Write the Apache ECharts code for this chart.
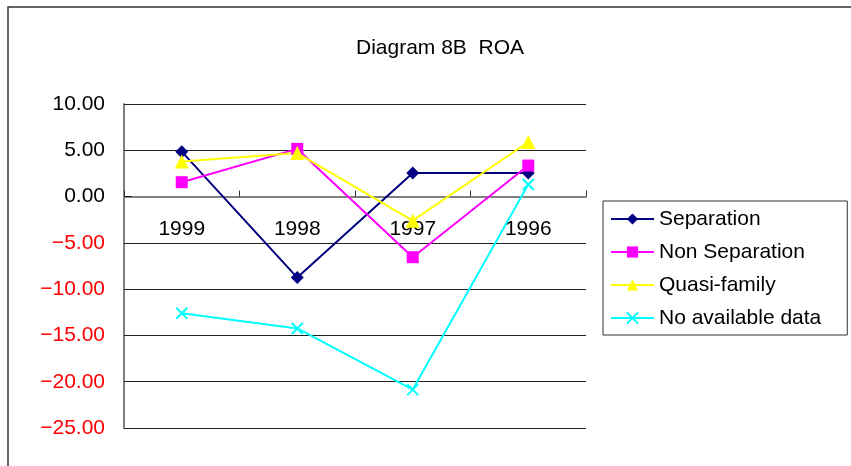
<!DOCTYPE html>
<html>
<head>
<meta charset="utf-8">
<script src="https://cdn.jsdelivr.net/npm/echarts@6/dist/echarts.min.js"></script>
<style>
  html, body { margin: 0; padding: 0; background: #fff; }
  #chart { width: 851px; height: 466px; }
</style>
</head>
<body>
<div id="chart"></div>
<script>
const years = ['1999', '1998', '1997', '1996'];
const separation = [4.85, -8.75, 2.55, 2.55];
const nonSeparation = [1.55, 5.15, -6.55, 3.35];
const quasiFamily = [3.8, 4.7, -2.6, 5.9];
const noData = [-12.6, -14.25, -20.85, 1.3];

const font = 'Liberation Sans, Arial, sans-serif';
const chart = echarts.init(document.getElementById('chart'));

function makeSeries(name, data, color, symbol, size, extra) {
  return {
    name: name,
    type: 'line',
    data: data,
    symbol: symbol,
    symbolSize: size,
    showAllSymbol: true,
    lineStyle: { color: color, width: 2 },
    itemStyle: Object.assign({ color: color, borderWidth: 0 }, extra || {}),
    emphasis: { disabled: true },
    animation: false
  };
}

const option = {
  animation: false,
  title: {
    text: 'Diagram 8B  ROA',
    left: 435,
    top: 33,
    textAlign: 'center',
    textStyle: { fontFamily: font, fontSize: 21, fontWeight: 'normal', color: '#000' }
  },
  graphic: [{
    type: 'rect',
    shape: { x: 8, y: 7, width: 900, height: 520 },
    style: { fill: 'none', stroke: '#333', lineWidth: 1.5 },
    silent: true
  }],
  legend: {
    orient: 'vertical',
    left: 603,
    top: 201,
    padding: [7, 26, 6, 7],
    borderColor: '#333',
    borderWidth: 1,
    itemWidth: 43,
    itemHeight: 14,
    itemGap: 11,
    textStyle: { fontFamily: font, fontSize: 21, color: '#000', lineHeight: 22 },
    data: ['Separation', 'Non Separation', 'Quasi-family', 'No available data']
  },
  grid: { left: 124, right: 265, top: 104, bottom: 38, containLabel: false, outerBoundsMode: 'none' },
  xAxis: [{
    type: 'category',
    data: years,
    boundaryGap: true,
    axisLine: { onZero: true, lineStyle: { color: '#808080', width: 2 } },
    axisTick: { show: true, inside: true, length: 6, lineStyle: { color: '#333' } },
    axisLabel: { show: false },
    splitLine: { show: false }
  }, {
    // label-only axis sitting just under the zero line
    type: 'category',
    data: years,
    position: 'bottom',
    offset: -231,
    boundaryGap: true,
    axisLine: { show: false, onZero: false },
    axisTick: { show: false },
    axisLabel: { margin: 22, fontFamily: font, fontSize: 21, color: '#000' },
    splitLine: { show: false }
  }],
  yAxis: {
    type: 'value',
    min: -25,
    max: 10,
    interval: 5,
    axisLine: { show: true, lineStyle: { color: '#808080', width: 2 } },
    axisTick: { show: true, inside: true, length: 8, lineStyle: { color: '#222' } },
    axisLabel: {
      margin: 19,
      fontFamily: font,
      fontSize: 21,
      formatter: function (v) {
        return (v < 0 ? '\u2212' : '') + Math.abs(v).toFixed(2);
      },
      color: function (v) {
        return Number(v) < 0 ? '#FF0000' : '#000';
      }
    },
    splitLine: { show: true, lineStyle: { color: '#222', width: 1 } }
  },
  series: [
    makeSeries('Separation', separation, '#000080', 'diamond', 13),
    makeSeries('Non Separation', nonSeparation, '#FF00FF', 'rect', 12),
    makeSeries('Quasi-family', quasiFamily, '#FFFF00', 'triangle', 14),
    makeSeries('No available data', noData, '#00FFFF', 'path://M0,0L10,10M10,0L0,10', 11,
      { color: 'rgba(0,0,0,0)', borderColor: '#00FFFF', borderWidth: 2 })
  ]
};

chart.setOption(option);
</script>
</body>
</html>
